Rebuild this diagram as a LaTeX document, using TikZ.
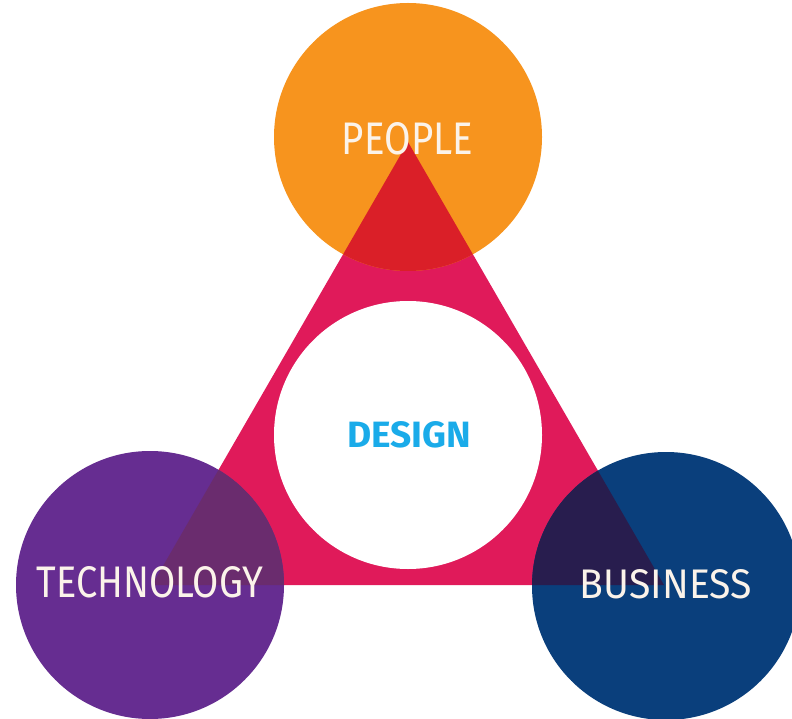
\documentclass[tikz,border=0pt]{standalone}
\usepackage{fontspec}
\setmainfont{Fira Sans}
\newfontfamily\lblfont{Fira Sans}
\newfontfamily\boldfont{Fira Sans Bold}
\usepackage{graphicx}
\definecolor{orangec}{HTML}{F7941E}
\definecolor{pinkc}{HTML}{E01A5A}
\definecolor{purplec}{HTML}{662D91}
\definecolor{navyc}{HTML}{0A3F7C}
\definecolor{redov}{HTML}{DA1F28}
\definecolor{purpov}{HTML}{6A2C6E}
\definecolor{navyov}{HTML}{281D4E}
\definecolor{designc}{HTML}{1AABE9}
\definecolor{labelc}{HTML}{FBF3EA}
\tikzset{
  circ/.style={circle, draw=none, minimum size=268pt, inner sep=0pt, outer sep=0pt},
  lbl/.style={inner sep=0pt, text=labelc, font=\lblfont},
  dlbl/.style={inner sep=0pt, text=designc, font=\boldfont}
}
\begin{document}
\begin{tikzpicture}[x=1pt,y=-1pt]
\useasboundingbox (0,0) rectangle (792,719);
\fill[white] (0,0) rectangle (792,719);
\coordinate (A) at (408,142);
\coordinate (B) at (152,585);
\coordinate (C) at (664,585);
\fill[pinkc] (A) -- (B) -- (C) -- cycle;
\node[circ, fill=orangec] (people) at (408,137) {};
\node[circ, fill=purplec] (tech) at (150,585) {};
\node[circ, fill=navyc] (bus) at (666,586) {};
\begin{scope}
  \clip (A) -- (B) -- (C) -- cycle;
  \fill[redov] (people.center) circle (134);
  \fill[purpov] (tech.center) circle (134);
  \fill[navyov] (bus.center) circle (134);
\end{scope}
\node[circ, fill=white] (design) at (408,435) {};
\node[lbl] (tpeople) at (407.5,139) {\resizebox{131pt}{32pt}{PEOPLE}};
\node[lbl] (ttech) at (150,582.5) {\resizebox{226pt}{31pt}{TECHNOLOGY}};
\node[lbl] (tbus) at (666,584) {\resizebox{172pt}{29pt}{BUSINESS}};
\node[dlbl] (tdesign) at (409,435) {\resizebox{124pt}{26pt}{DESIGN}};
\end{tikzpicture}
\end{document}
